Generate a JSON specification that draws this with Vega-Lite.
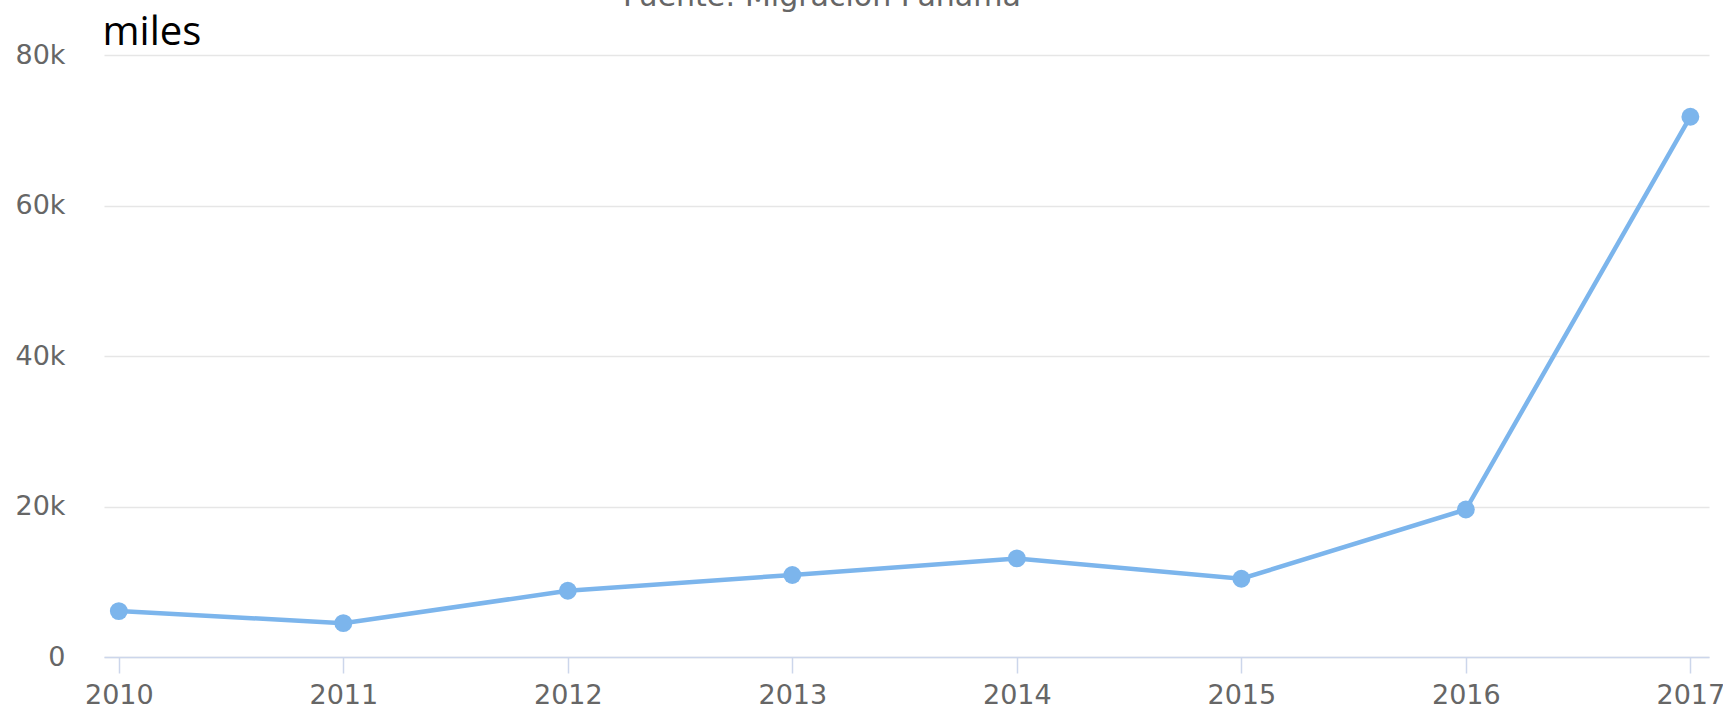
{
  "$schema": "https://vega.github.io/schema/vega-lite/v6.json",
  "autosize": {"type": "none"},
  "width": 1605,
  "height": 602,
  "padding": {"left": 104, "top": 55, "right": 14, "bottom": 48},
  "background": "white",
  "title": {
    "text": "Fuente: Migración Panamá",
    "anchor": "start",
    "frame": "group",
    "dx": 519,
    "offset": -24,
    "baseline": "alphabetic",
    "font": "DejaVu Sans",
    "fontSize": 30,
    "fontWeight": "normal",
    "color": "#666666"
  },
  "data": {
    "values": [
      {"year": 2010, "value": 6100},
      {"year": 2011, "value": 4500},
      {"year": 2012, "value": 8800},
      {"year": 2013, "value": 10900},
      {"year": 2014, "value": 13100},
      {"year": 2015, "value": 10400},
      {"year": 2016, "value": 19600},
      {"year": 2017, "value": 71800}
    ]
  },
  "config": {
    "view": {"stroke": null},
    "axis": {"labelFont": "DejaVu Sans", "labelColor": "#666666", "labelFontSize": 27}
  },
  "encoding": {
    "x": {
      "field": "year",
      "type": "quantitative",
      "scale": {"domain": [2009.934, 2017.083], "nice": false, "zero": false},
      "axis": {
        "values": [2010, 2011, 2012, 2013, 2014, 2015, 2016, 2017],
        "format": "d",
        "title": null,
        "grid": false,
        "domainColor": "#ccd6eb",
        "domainWidth": 1.5,
        "tickColor": "#ccd6eb",
        "tickWidth": 1.5,
        "tickSize": 16,
        "labelPadding": 9,
        "labelFlush": false,
        "labelOverlap": false,
        "zindex": 1
      }
    },
    "y": {
      "field": "value",
      "type": "quantitative",
      "scale": {"domain": [0, 80000], "nice": false},
      "axis": {
        "values": [0, 20000, 40000, 60000, 80000],
        "labelExpr": "datum.value == 0 ? '0' : format(datum.value / 1000, 'd') + 'k'",
        "title": "miles",
        "titleAngle": 0,
        "titleAlign": "left",
        "titleBaseline": "alphabetic",
        "titleX": -2,
        "titleY": -11,
        "titleFont": "Open Sans",
        "titleFontSize": 40,
        "titleFontWeight": "normal",
        "titleColor": "#000000",
        "domain": false,
        "ticks": false,
        "tickSize": 0,
        "labelPadding": 39,
        "gridColor": "#e6e6e6",
        "gridWidth": 1.5
      }
    }
  },
  "layer": [
    {"mark": {"type": "line", "color": "#7cb5ec", "strokeWidth": 4.5}},
    {"mark": {"type": "point", "filled": true, "opacity": 1, "color": "#7cb5ec", "size": 320}}
  ]
}
